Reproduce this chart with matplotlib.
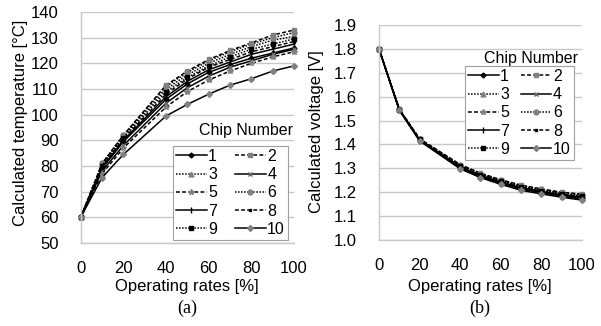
import matplotlib
matplotlib.use('Agg')
import matplotlib.pyplot as plt

plt.rcParams['font.family'] = ['Liberation Sans', 'DejaVu Sans']

rates = [0, 10, 20, 40, 50, 60, 70, 80, 90, 100]
chips = ['1', '2', '3', '4', '5', '6', '7', '8', '9', '10']

temp = {
    '1':  [60, 79.0, 89.5, 106.0, 112.0, 116.5, 119.5, 122.0, 124.0, 126.0],
    '2':  [60, 81.0, 92.0, 111.5, 117.0, 121.5, 125.0, 128.0, 131.0, 133.0],
    '3':  [60, 80.5, 91.5, 110.0, 115.5, 120.0, 123.5, 126.5, 129.0, 130.5],
    '4':  [60, 78.0, 88.0, 104.5, 110.5, 115.0, 118.5, 121.0, 123.5, 125.5],
    '5':  [60, 77.0, 87.0, 103.0, 109.0, 113.5, 117.0, 120.0, 122.5, 124.5],
    '6':  [60, 81.0, 92.0, 111.0, 116.5, 121.0, 124.5, 127.5, 130.0, 132.0],
    '7':  [60, 79.5, 90.0, 107.0, 113.0, 117.5, 120.5, 123.5, 125.5, 127.5],
    '8':  [60, 80.0, 90.5, 108.0, 114.0, 118.5, 121.5, 124.5, 126.5, 128.5],
    '9':  [60, 80.0, 91.0, 109.0, 114.5, 119.0, 122.5, 125.5, 127.5, 129.5],
    '10': [60, 75.5, 84.5, 99.5, 104.0, 108.0, 111.5, 114.0, 117.0, 119.0],
}

volt = {
    '1':  [1.80, 1.545, 1.418, 1.304, 1.268, 1.240, 1.217, 1.200, 1.186, 1.177],
    '2':  [1.80, 1.548, 1.424, 1.316, 1.280, 1.252, 1.230, 1.214, 1.200, 1.192],
    '3':  [1.80, 1.547, 1.422, 1.312, 1.276, 1.248, 1.225, 1.209, 1.195, 1.186],
    '4':  [1.80, 1.545, 1.417, 1.302, 1.266, 1.238, 1.214, 1.198, 1.184, 1.174],
    '5':  [1.80, 1.544, 1.416, 1.300, 1.264, 1.236, 1.212, 1.196, 1.182, 1.171],
    '6':  [1.80, 1.547, 1.423, 1.314, 1.278, 1.250, 1.228, 1.212, 1.198, 1.189],
    '7':  [1.80, 1.546, 1.419, 1.306, 1.270, 1.242, 1.219, 1.203, 1.189, 1.180],
    '8':  [1.80, 1.546, 1.420, 1.308, 1.272, 1.244, 1.221, 1.205, 1.191, 1.182],
    '9':  [1.80, 1.546, 1.421, 1.310, 1.274, 1.246, 1.223, 1.207, 1.193, 1.184],
    '10': [1.80, 1.544, 1.415, 1.298, 1.261, 1.233, 1.208, 1.193, 1.179, 1.167],
}

dash = (0, (2.5, 1.5))
dot = (0, (1, 1))
# line style, marker, marker colour, marker size
styles = {
    '1':  ('-',  'D', 'black', 2.5),
    '2':  (dash, 's', 'gray', 3.5),
    '3':  (dot,  '^', 'gray', 3.5),
    '4':  ('-',  'x', 'dimgray', 3.5),
    '5':  (dash, '*', 'gray', 4),
    '6':  (dot,  'o', 'gray', 3.5),
    '7':  ('-',  '|', 'black', 5),
    '8':  (dash, 's', 'black', 2),
    '9':  (dot,  's', 'black', 3),
    '10': ('-',  'D', 'gray', 3),
}

grid_col = '#c8c8c8'
fs = 11.5


def style_axes(ax, ylo, yhi, step, fmt):
    ax.set_xlim(0, 100)
    ax.set_ylim(ylo, yhi)
    ax.set_xticks(range(0, 101, 20))
    ticks = [ylo + i * step for i in range(int(round((yhi - ylo) / step)) + 1)]
    ax.set_yticks(ticks)
    ax.set_yticklabels([fmt.format(t) for t in ticks])
    ax.grid(axis='y', color=grid_col, lw=1)
    ax.set_axisbelow(True)
    for s in ['top', 'right']:
        ax.spines[s].set_visible(False)
    for s in ['left', 'bottom']:
        ax.spines[s].set_color(grid_col)
        ax.spines[s].set_linewidth(1)
    ax.tick_params(length=0, labelsize=12)
    ax.tick_params(axis='y', pad=16)
    ax.tick_params(axis='x', pad=13)


def draw(ax, data):
    lines = {}
    for c in chips:
        ls, mk, mc, ms = styles[c]
        lines[c], = ax.plot(rates, data[c], ls=ls, color='black', lw=1.1,
                            marker=mk, markersize=ms, markerfacecolor=mc,
                            markeredgecolor=mc, label=c, clip_on=False)
    # legend fills by column, reorder so it reads 1 2 / 3 4 / ...
    order = ['1', '3', '5', '7', '9', '2', '4', '6', '8', '10']
    return [lines[c] for c in order], order


fig = plt.figure(figsize=(6.01, 3.26), dpi=100)
ax1 = fig.add_axes([0.1343, 0.2546, 0.355, 0.7086])
ax2 = fig.add_axes([0.6306, 0.2638, 0.3378, 0.6595])

h1, o1 = draw(ax1, temp)
style_axes(ax1, 50, 140, 10, '{:.0f}')
h2, o2 = draw(ax2, volt)
style_axes(ax2, 1.0, 1.9, 0.1, '{:.1f}')

leg_kw = dict(ncol=2, fontsize=fs, handlelength=1.9, handletextpad=0.1,
              labelspacing=0.2, columnspacing=1.0, borderpad=0.2,
              fancybox=False, framealpha=1, edgecolor='#a0a0a0',
              borderaxespad=0)
l1 = ax1.legend(h1, o1, loc='lower left',
                bbox_to_anchor=(0.433, 0.013, 0.539, 0.42), mode='expand',
                **leg_kw)
l2 = ax2.legend(h2, o2, loc='lower left',
                bbox_to_anchor=(0.424, 0.372, 0.536, 0.418), mode='expand',
                **leg_kw)
for l in (l1, l2):
    l.get_frame().set_linewidth(0.8)

ax1.text(0.995, 0.485, 'Chip Number', transform=ax1.transAxes, ha='right',
         va='center', fontsize=fs)
ax2.text(0.98, 0.842, 'Chip Number', transform=ax2.transAxes, ha='right',
         va='center', fontsize=fs)

fig.text(21 / 601, 1 - 123 / 326, 'Calculated temperature [°C]', rotation=90,
         ha='center', va='center', fontsize=12)
fig.text(316 / 601, 1 - 132 / 326, 'Calculated voltage [V]', rotation=90,
         ha='center', va='center', fontsize=12)

fig.text(187 / 601, 1 - 287 / 326, 'Operating rates [%]', ha='center',
         va='center', fontsize=12)
fig.text(480 / 601, 1 - 287 / 326, 'Operating rates [%]', ha='center',
         va='center', fontsize=12)
fig.text(187 / 601, 1 - 308 / 326, '(a)', ha='center', va='center',
         fontsize=13, family='Liberation Serif')
fig.text(480 / 601, 1 - 308 / 326, '(b)', ha='center', va='center',
         fontsize=13, family='Liberation Serif')

fig.savefig('out.png', dpi=100)
